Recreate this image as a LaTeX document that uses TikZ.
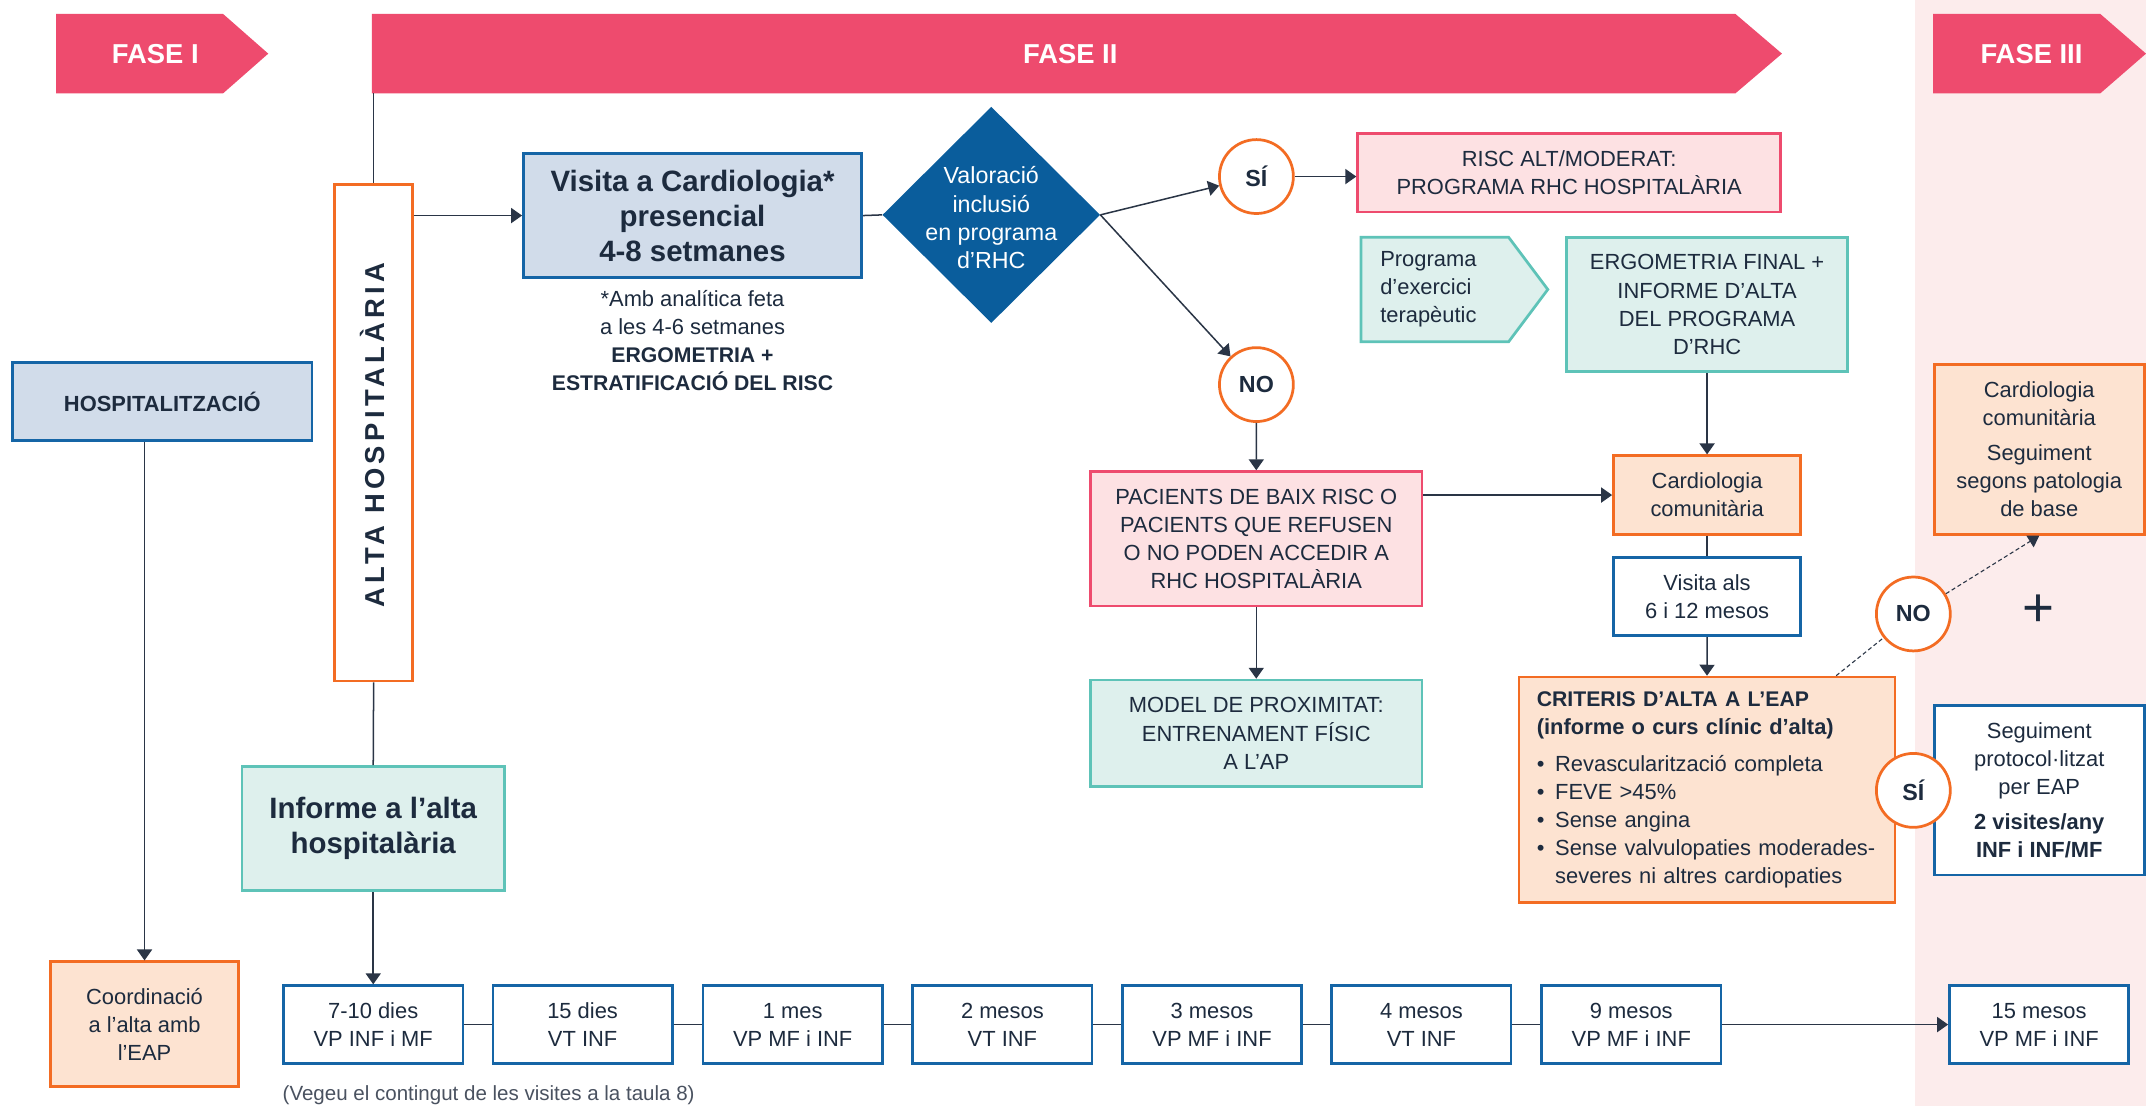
\documentclass[tikz,border=0pt]{standalone}
\usepackage{fontspec}
\setmainfont{Liberation Sans}
\usetikzlibrary{arrows.meta,shapes.geometric,calc}
\definecolor{phasered}{HTML}{EE4B6E}
\definecolor{navy}{HTML}{1D2B3E}
\definecolor{linec}{HTML}{2A3546}
\definecolor{bblue}{HTML}{1565A6}
\definecolor{bfill}{HTML}{D1DCEA}
\definecolor{diab}{HTML}{0A5D9C}
\definecolor{orng}{HTML}{F36C23}
\definecolor{peach}{HTML}{FDE3D1}
\definecolor{tealc}{HTML}{5EC3B8}
\definecolor{tealfill}{HTML}{DEF0ED}
\definecolor{pinkb}{HTML}{EE4B6E}
\definecolor{pinkfill}{HTML}{FDE1E3}
\definecolor{bandpink}{HTML}{FCECEC}
\definecolor{capgray}{HTML}{4A5260}
\newcommand{\mybul}{\makebox[13.4pt][l]{\textbullet}}
\begin{document}
\begin{tikzpicture}[x=1pt,y=-1pt,
  box/.style={draw, line width=2pt, inner sep=0pt, align=center, text=navy, font={\fontsize{16}{20.5}\selectfont}},
  bluebox/.style={box, draw=bblue, fill=bfill},
  whitebox/.style={box, draw=bblue, fill=white},
  orbox/.style={box, draw=orng, fill=peach},
  tealbox/.style={box, draw=tealc, fill=tealfill},
  pinkbox/.style={box, draw=pinkb, fill=pinkfill},
  circ/.style={circle, draw=orng, line width=2pt, fill=white, minimum size=54pt, inner sep=0pt, text=navy, font={\fontsize{17}{20}\selectfont\bfseries}},
  tlbox/.style={whitebox, minimum width=131pt, minimum height=56.8pt},
  conn/.style={draw=linec, line width=1.1pt},
  arr/.style={conn, -{Triangle[length=8pt,width=11pt]}},
  dashc/.style={draw=linec, line width=0.8pt, dash pattern=on 3pt off 2pt},
  phasetxt/.style={text=white, font={\fontsize{20}{24}\selectfont\bfseries}}
]
\useasboundingbox (0,0) rectangle (1568,808.07);
\fill[white] (0,0) rectangle (1568,808.07);
\fill[bandpink] (1399,0) rectangle (1568,808.07);

% phase arrows
\fill[phasered] (41,10.2) -- (163,10.2) -- (196,39.2) -- (163,68.2) -- (41,68.2) -- cycle;
\fill[phasered] (271.7,10.2) -- (1268,10.2) -- (1302,39.2) -- (1268,68.2) -- (271.7,68.2) -- cycle;
\fill[phasered] (1412.5,10.2) -- (1534.6,10.2) -- (1568,39.2) -- (1534.6,68.2) -- (1412.5,68.2) -- cycle;
\node[phasetxt] (f1) at (113.5,39.2) {FASE I};
\node[phasetxt] (f2) at (782,39.2) {FASE II};
\node[phasetxt] (f3) at (1484.3,39.2) {FASE III};
\coordinate (f2foot) at (273,68.2);

% left column
\node[bluebox, minimum width=218.8pt, minimum height=57pt, font={\fontsize{16}{20}\selectfont\bfseries}] (hosp) at (118.6,293.5) {HOSPITALITZACIÓ};
\node[orbox, minimum width=137.4pt, minimum height=91.3pt] (coord) at (105.6,748.4) {Coordinació\\a l’alta amb\\l’EAP};
\node[box, draw=orng, fill=white, minimum width=56.8pt, minimum height=362.9pt] (alta) at (273,316.2) {};
\node[rotate=90, text=navy, font={\fontsize{20}{20}\selectfont\bfseries\addfontfeatures{LetterSpace=16}}] (altatxt) at (272.5,318) {ALTA HOSPITALÀRIA};
\node[tealbox, minimum width=191.8pt, minimum height=90.8pt, font={\fontsize{21.5}{25.6}\selectfont\bfseries}] (inf) at (272.7,605.4) {Informe a l’alta\\hospitalària};

% visita
\node[bluebox, minimum width=247.1pt, minimum height=90.9pt, font={\fontsize{21.5}{25.6}\selectfont\bfseries}] (vis) at (506,157.5) {Visita a Cardiologia*\\presencial\\4-8 setmanes};
\node[text=navy, align=center, font={\fontsize{16}{20.5}\selectfont}] (viscap) at (506,248.7) {*Amb analítica feta\\a les 4-6 setmanes\\{\fontsize{15.5}{20.5}\selectfont\bfseries ERGOMETRIA +}\\{\fontsize{15.5}{20.5}\selectfont\bfseries ESTRATIFICACIÓ DEL RISC}};

% diamond
\node[diamond, fill=diab, minimum width=159pt, minimum height=158pt, inner sep=0pt] (dia) at (724.3,157) {};
\node[text=white, align=center, font={\fontsize{17}{20.5}\selectfont}] (diatxt) at (724.3,159) {Valoració\\inclusió\\en programa\\d’RHC};

% middle
\node[pinkbox, minimum width=309pt, minimum height=57.5pt] (risc) at (1146.5,126.2) {RISC ALT/MODERAT:\\PROGRAMA RHC HOSPITALÀRIA};
\filldraw[fill=tealfill, draw=tealc, line width=2pt] (994.5,173.4) -- (1102.3,173.4) -- (1130.9,211.5) -- (1102.3,249.7) -- (994.5,249.7) -- cycle;
\node[anchor=west, align=left, text=navy, font={\fontsize{16}{20.5}\selectfont}] (prog) at (1005,211.5) {Programa\\d’exercici\\terapèutic};
\node[tealbox, minimum width=205.2pt, minimum height=98.2pt] (ergo) at (1247.3,222.5) {ERGOMETRIA FINAL +\\INFORME D’ALTA\\DEL PROGRAMA\\D’RHC};
\node[orbox, minimum width=136.8pt, minimum height=57.4pt] (card) at (1247.3,361.7) {Cardiologia\\comunitària};
\node[pinkbox, minimum width=242.2pt, minimum height=98.2pt] (pac) at (917.9,393.7) {PACIENTS DE BAIX RISC O\\PACIENTS QUE REFUSEN\\O NO PODEN ACCEDIR A\\RHC HOSPITALÀRIA};
\node[tealbox, minimum width=242.2pt, minimum height=77.9pt] (model) at (917.9,535.85) {MODEL DE PROXIMITAT:\\ENTRENAMENT FÍSIC\\A L’AP};
\node[whitebox, minimum width=136.8pt, minimum height=57.3pt] (visal) at (1247.3,435.85) {Visita als\\6 i 12 mesos};
\node[orbox, minimum width=274.7pt, minimum height=164.9pt, text width=248.7pt, align=left] (crit) at (1247.25,577.15) {{\fontsize{15.5}{20.5}\selectfont\bfseries CRITERIS D’ALTA A L’EAP}\\{\bfseries (informe o curs clínic d’alta)}\\[6pt]\mybul Revascularització completa\\\mybul FEVE >45\%\\\mybul Sense angina\\\mybul Sense valvulopaties moderades-\\\hspace*{13.4pt}severes ni altres cardiopaties};

% fase III
\node[orbox, minimum width=153.3pt, minimum height=124.2pt] (card3) at (1490,328.3) {Cardiologia\\comunitària\\[5pt]Seguiment\\segons patologia\\de base};
\node[whitebox, minimum width=153.3pt, minimum height=123.7pt] (seg) at (1490,577.45) {Seguiment\\protocol·litzat\\per EAP\\[5.5pt]\textbf{2 visites/any}\\\textbf{INF i INF/MF}};
\node[text=navy, font={\fontsize{40}{40}\selectfont}] (plus) at (1489.4,446) {+};

% timeline
\node[tlbox] (t1) at (272.7,748.6) {7-10 dies\\VP INF i MF};
\node[tlbox] (t2) at (425.7,748.6) {15 dies\\VT INF};
\node[tlbox] (t3) at (579.2,748.6) {1 mes\\VP MF i INF};
\node[tlbox] (t4) at (732.4,748.6) {2 mesos\\VT INF};
\node[tlbox] (t5) at (885.6,748.6) {3 mesos\\VP MF i INF};
\node[tlbox] (t6) at (1038.6,748.6) {4 mesos\\VT INF};
\node[tlbox] (t7) at (1191.9,748.6) {9 mesos\\VP MF i INF};
\node[tlbox] (t8) at (1489.9,748.6) {15 mesos\\VP MF i INF};
\node[anchor=west, text=capgray, font={\fontsize{15}{18}\selectfont}] (cap) at (203,800) {(Vegeu el contingut de les visites a la taula 8)};

% connectors
\draw[conn] (f2foot) -- (alta.north);
\draw[arr] (alta.east |- vis.west) -- (vis.west);
\draw[conn] (vis.east) -- (dia.west);
\draw[arr] (hosp.south -| coord.north) -- (coord.north);
\draw[conn] (alta.south) -- (inf.north);
\draw[arr] (inf.south) -- (t1.north);
\draw[conn] (t1.east) -- (t2.west);
\draw[conn] (t2.east) -- (t3.west);
\draw[conn] (t3.east) -- (t4.west);
\draw[conn] (t4.east) -- (t5.west);
\draw[conn] (t5.east) -- (t6.west);
\draw[conn] (t6.east) -- (t7.west);
\draw[arr] (t7.east) -- (t8.west);
\draw[arr] (pac.east |- card.west) -- (card.west);
\draw[arr] (pac.south) -- (model.north);
\draw[arr] (ergo.south) -- (card.north);
\draw[conn] (card.south) -- (visal.north);
\draw[arr] (visal.south) -- (crit.north);

% circles
\node[circ] (si1) at (918,129) {SÍ};
\node[circ] (no1) at (918,281) {NO};
\draw[arr] (dia.east) -- (si1);
\draw[arr] (dia.east) -- (no1);
\draw[arr] (si1.east) -- (si1.east -| risc.west);
\draw[arr] (no1.south) -- (pac.north);
\node[circ] (no2) at (1398,448.6) {NO};
\node[circ] (si2) at (1398,577.5) {SÍ};
\draw[dashc] ($(crit.north east)+(-44,0)$) -- (no2);
\draw[dashc, -{Triangle[length=8pt,width=10pt]}] (no2) -- (card3.south);
\end{tikzpicture}
\end{document}
